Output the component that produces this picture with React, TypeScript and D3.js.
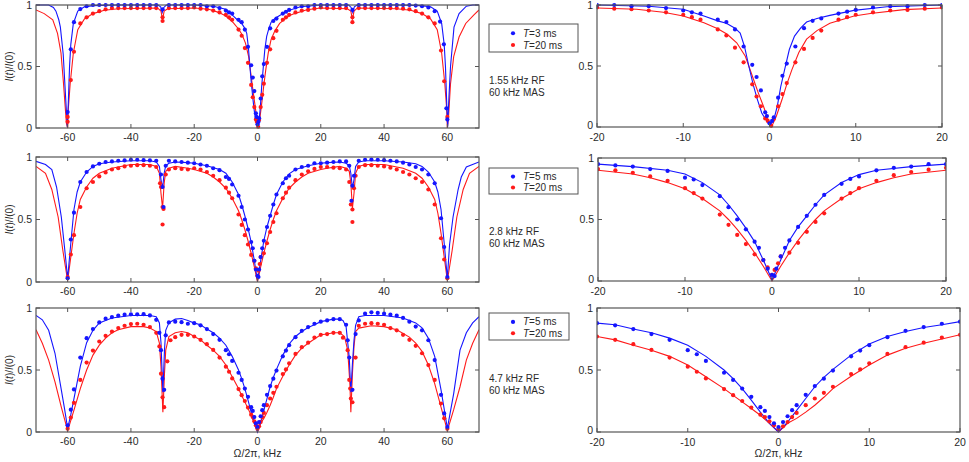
import * as d3 from "d3";

// ---- tick labels ----
const leftXTicks = [-60, -40, -20, 0, 20, 40, 60];
const rightXTicks = [-20, -10, 0, 10, 20];
const yTicks = [0, 0.5, 1];
const yTickLabels = ["0", "0.5", "1"];

// ---- legend / annotation text ----
const legendBlue = ["T=3 ms", "T=5 ms", "T=5 ms"];
const legendRed = ["T=20 ms", "T=20 ms", "T=20 ms"];
const rfLabels = ["1.55 kHz RF", "2.8 kHz RF", "4.7 kHz RF"];
const masLabel = "60 kHz MAS";

type Pt = [number, number];

// ---- row 1: 1.55 kHz RF ----
const blueLine1: Pt[] = [
  [-70, 1.0], [-66, 1.0], [-64.5, 0.98], [-63.7, 0.95], [-62.8, 0.88], [-62.3, 0.82], [-61.4, 0.6],
  [-60.6, 0.23], [-60.1, 0.01], [-59.8, 0.2], [-59.4, 0.5], [-59, 0.68], [-58.2, 0.85], [-56.8, 0.95],
  [-54.7, 0.985], [-52, 0.995], [-44, 1.0], [-31.5, 1.0], [-30.6, 0.985], [-30.1, 0.94], [-29.6, 0.98],
  [-28.8, 1.0], [-20, 1.0], [-14, 0.99], [-10, 0.965], [-7.6, 0.91], [-6, 0.87], [-5, 0.85], [-4, 0.81],
  [-3.4, 0.77], [-2.9, 0.66], [-2.4, 0.5], [-1.9, 0.35], [-1.4, 0.225], [-0.9, 0.115], [-0.3, 0.047],
  [0.1, 0.02], [0.5, 0.06], [0.9, 0.17], [1.3, 0.33], [1.8, 0.485], [2.3, 0.635], [2.9, 0.745],
  [3.6, 0.81], [4.3, 0.86], [5.5, 0.89], [7, 0.915], [9.8, 0.956], [13.6, 0.986], [20, 1.0],
  [28.8, 1.0], [29.6, 0.98], [30.1, 0.94], [30.6, 0.985], [31.5, 1.0], [44, 1.0], [52, 0.995],
  [54.7, 0.985], [56.8, 0.95], [58.2, 0.85], [59, 0.68], [59.4, 0.5], [59.8, 0.2], [60.1, 0.01],
  [60.5, 0.25], [61, 0.5], [62.1, 0.82], [63.7, 0.93], [66, 0.99], [68, 1.0], [70, 1.0],
];
const redLine1: Pt[] = [
  [-70, 0.96], [-67.4, 0.93], [-64.7, 0.88], [-63.2, 0.77], [-62.1, 0.61], [-61.3, 0.36], [-60.4, 0.04],
  [-60, 0.0], [-59.8, 0.15], [-59.2, 0.36], [-58.2, 0.61], [-56.8, 0.8], [-54.7, 0.886], [-52, 0.93],
  [-48.4, 0.957], [-44, 0.97], [-31.6, 0.976], [-30.5, 0.95], [-30, 0.88], [-29.5, 0.95], [-28.4, 0.97],
  [-20, 0.975], [-15.4, 0.965], [-12.3, 0.94], [-10, 0.91], [-7.6, 0.855], [-6, 0.805], [-4.9, 0.76],
  [-3.8, 0.69], [-2.8, 0.58], [-1.9, 0.4], [-1.3, 0.28], [-0.7, 0.17], [-0.1, 0.047], [0.3, 0.01],
  [0.8, 0.09], [1.45, 0.225], [2, 0.35], [2.6, 0.47], [3.4, 0.61], [4.3, 0.72], [5.5, 0.79], [7, 0.85],
  [9.8, 0.91], [11.7, 0.93], [15.6, 0.962], [20, 0.975], [28.4, 0.97], [29.5, 0.95], [30, 0.88],
  [30.5, 0.95], [31.6, 0.976], [44, 0.97], [48.4, 0.957], [52, 0.93], [54.7, 0.886], [56.8, 0.8],
  [58.2, 0.61], [59.2, 0.36], [59.8, 0.15], [60, 0.0], [60.4, 0.1], [61, 0.36], [62, 0.58],
  [63.7, 0.74], [65.8, 0.85], [68.4, 0.92], [70, 0.96],
];
const blueDots1: Pt[] = [
  [-60, 0.13], [-59, 0.64], [-58, 0.86], [-56, 0.967], [-54, 0.99], [-52, 1.0], [-50, 1.0], [-48, 1.0],
  [-46, 1.0], [-44, 1.0], [-42, 1.0], [-40, 1.0], [-38, 1.0], [-36, 1.0], [-34, 1.0], [-32, 1.0],
  [-30, 0.965], [-28, 1.0], [-26, 1.0], [-24, 1.0], [-22, 1.0], [-20, 1.0], [-18, 1.0], [-16, 0.99],
  [-14, 0.99], [-12, 0.975], [-10, 0.955], [-9, 0.94], [-8, 0.93], [-6, 0.88], [-5, 0.86], [-4, 0.8],
  [-3, 0.66], [-2, 0.51], [-1.5, 0.41], [-1, 0.3], [-0.5, 0.12], [-0.3, 0.09], [0, 0.03], [0.3, 0.05],
  [0.5, 0.08], [1, 0.24], [1.5, 0.42], [2, 0.52], [3, 0.66], [4, 0.81], [5, 0.87], [6, 0.89], [8, 0.93],
  [9, 0.945], [10, 0.96], [12, 0.98], [14, 0.99], [16, 0.99], [18, 1.0], [20, 1.0], [22, 1.0], [24, 1.0],
  [26, 1.0], [28, 1.0], [30, 0.96], [32, 1.0], [34, 1.0], [36, 1.0], [38, 1.0], [40, 1.0], [42, 1.0],
  [44, 1.0], [46, 1.0], [48, 1.0], [50, 0.995], [52, 0.99], [54, 0.98], [56, 0.95], [57.7, 0.865],
  [58.9, 0.68], [59.7, 0.16], [60, 0.07],
];
const redDots1: Pt[] = [
  [-60, 0.09], [-60, 0.05], [-59, 0.39], [-58, 0.62], [-56, 0.85], [-54, 0.9], [-52, 0.93], [-50, 0.95],
  [-48, 0.965], [-46, 0.975], [-44, 0.975], [-42, 0.975], [-40, 0.975], [-38, 0.975], [-36, 0.975],
  [-34, 0.975], [-32, 0.975], [-30, 0.87], [-30, 0.9], [-28, 0.975], [-26, 0.975], [-24, 0.975],
  [-22, 0.975], [-20, 0.98], [-18, 0.97], [-16, 0.965], [-14, 0.955], [-12, 0.94], [-10, 0.92],
  [-9, 0.9], [-8, 0.88], [-6, 0.8], [-5, 0.75], [-4, 0.65], [-3, 0.53], [-2, 0.35], [-1.5, 0.25],
  [-1, 0.17], [-0.5, 0.07], [-0.2, 0.05], [0.2, 0.01], [0.5, 0.065], [1, 0.17], [1.5, 0.27], [2, 0.36],
  [3, 0.53], [4, 0.64], [5, 0.73], [6, 0.79], [8, 0.88], [9, 0.9], [10, 0.92], [12, 0.94], [14, 0.955],
  [16, 0.96], [18, 0.97], [20, 0.98], [22, 0.975], [24, 0.975], [26, 0.975], [28, 0.975], [30, 0.86],
  [30, 0.9], [32, 0.975], [34, 0.975], [36, 0.975], [38, 0.975], [40, 0.975], [42, 0.975], [44, 0.975],
  [46, 0.97], [48, 0.965], [50, 0.95], [52, 0.93], [54, 0.9], [56, 0.85], [58, 0.63], [59, 0.38],
  [60, 0.09],
];

// ---- row 2: 2.8 kHz RF ----
const blueLine2: Pt[] = [
  [-70, 0.965], [-67, 0.94], [-65, 0.9], [-63.5, 0.76], [-62, 0.52], [-61, 0.28], [-60, 0.03], [-59, 0.31],
  [-58, 0.58], [-57, 0.72], [-56, 0.8], [-54, 0.88], [-52, 0.925], [-50, 0.946], [-46, 0.96], [-40, 0.97],
  [-34, 0.97], [-32, 0.96], [-31, 0.925], [-30.5, 0.82], [-30, 0.75], [-29.5, 0.87], [-29, 0.93],
  [-28, 0.95], [-26, 0.96], [-22, 0.955], [-20, 0.95], [-16, 0.93], [-12, 0.9], [-10, 0.87], [-8, 0.8],
  [-6, 0.7], [-5, 0.62], [-4, 0.53], [-3, 0.43], [-2, 0.32], [-1, 0.17], [0, 0.01], [1, 0.17], [2, 0.33],
  [3, 0.44], [4, 0.53], [5, 0.62], [6, 0.7], [8, 0.8], [10, 0.865], [12, 0.9], [16, 0.93], [20, 0.95],
  [22, 0.955], [26, 0.96], [28, 0.95], [29, 0.93], [29.5, 0.87], [30, 0.75], [30.5, 0.82], [31, 0.925],
  [32, 0.96], [34, 0.97], [40, 0.97], [46, 0.96], [50, 0.946], [52, 0.925], [54, 0.88], [56, 0.8],
  [57, 0.72], [58, 0.58], [59, 0.31], [60, 0.03], [60.7, 0.3], [61.8, 0.52], [63.4, 0.74], [64.4, 0.84],
  [66, 0.92], [70, 0.96],
];
const redLine2: Pt[] = [
  [-70, 0.925], [-67, 0.87], [-65, 0.74], [-63, 0.52], [-61.5, 0.25], [-60, 0.01], [-59, 0.2], [-58, 0.39],
  [-57, 0.55], [-56, 0.66], [-54, 0.76], [-52, 0.83], [-50, 0.87], [-46, 0.91], [-40, 0.94], [-34, 0.94],
  [-32, 0.925], [-31, 0.87], [-30.5, 0.71], [-30, 0.59], [-29.5, 0.79], [-29, 0.885], [-28, 0.91],
  [-26, 0.925], [-22, 0.91], [-20, 0.9], [-16, 0.87], [-14, 0.84], [-12, 0.8], [-10, 0.75], [-8, 0.67],
  [-6, 0.57], [-5, 0.5], [-4, 0.42], [-3, 0.33], [-2, 0.23], [-1, 0.12], [0, 0.0], [1, 0.12], [2, 0.23],
  [3, 0.33], [4, 0.42], [5, 0.5], [6, 0.57], [8, 0.67], [10, 0.75], [12, 0.8], [14, 0.84], [16, 0.87],
  [20, 0.9], [22, 0.91], [26, 0.925], [28, 0.91], [29, 0.885], [29.5, 0.79], [30, 0.59], [30.5, 0.71],
  [31, 0.87], [32, 0.925], [34, 0.94], [40, 0.94], [46, 0.91], [50, 0.87], [52, 0.83], [54, 0.76],
  [56, 0.66], [57, 0.55], [58, 0.39], [59, 0.2], [60, 0.01], [61.5, 0.25], [63, 0.52], [65, 0.74],
  [67, 0.87], [70, 0.925],
];
const blueDots2: Pt[] = [
  [-60, 0.03], [-59, 0.34], [-58, 0.555], [-56, 0.8], [-54, 0.88], [-52, 0.925], [-50, 0.946], [-48, 0.96],
  [-46, 0.965], [-44, 0.97], [-42, 0.973], [-40, 0.978], [-38, 0.978], [-36, 0.975], [-34, 0.973],
  [-32, 0.97], [-30.5, 0.86], [-30, 0.76], [-29.7, 0.6], [-29, 0.93], [-28, 0.97], [-26, 0.965],
  [-24, 0.96], [-22, 0.955], [-20, 0.95], [-18, 0.94], [-16, 0.93], [-14, 0.91], [-12, 0.895], [-10, 0.84],
  [-9, 0.825], [-8, 0.78], [-6, 0.69], [-5, 0.6], [-4, 0.5], [-3, 0.42], [-2, 0.32], [-1.5, 0.27],
  [-1, 0.17], [-0.5, 0.1], [0, 0.05], [0.3, 0.04], [0.5, 0.1], [1, 0.2], [1.5, 0.27], [2, 0.33],
  [3, 0.44], [4, 0.53], [5, 0.62], [6, 0.7], [8, 0.79], [9, 0.83], [10, 0.85], [12, 0.9], [14, 0.92],
  [16, 0.93], [18, 0.95], [20, 0.95], [22, 0.955], [24, 0.96], [26, 0.965], [28, 0.965], [29, 0.93],
  [29.7, 0.65], [30, 0.77], [30.5, 0.85], [32, 0.97], [34, 0.978], [36, 0.98], [38, 0.978], [40, 0.975],
  [42, 0.97], [44, 0.965], [46, 0.955], [48, 0.94], [50, 0.92], [52, 0.9], [54, 0.86], [56, 0.79],
  [58, 0.51], [59, 0.28], [60, 0.04],
];
const redDots2: Pt[] = [
  [-60, 0.04], [-59, 0.22], [-58, 0.375], [-56, 0.6], [-54, 0.75], [-52, 0.8], [-50, 0.845], [-48, 0.876],
  [-46, 0.9], [-44, 0.91], [-42, 0.925], [-40, 0.93], [-38, 0.935], [-36, 0.935], [-34, 0.93], [-32, 0.92],
  [-30.8, 0.79], [-30.5, 0.76], [-30, 0.6], [-30, 0.46], [-29.7, 0.585], [-29, 0.86], [-28, 0.9],
  [-26, 0.91], [-24, 0.905], [-22, 0.9], [-20, 0.91], [-18, 0.9], [-16, 0.88], [-14, 0.85], [-12, 0.815],
  [-10, 0.755], [-9, 0.715], [-8, 0.67], [-6, 0.54], [-5, 0.457], [-4, 0.375], [-3, 0.3], [-2, 0.217],
  [-1, 0.17], [-0.5, 0.11], [0, 0.05], [0.3, 0.09], [0.7, 0.144], [1, 0.2], [2, 0.23], [3, 0.31],
  [4, 0.4], [5, 0.48], [6, 0.55], [8, 0.67], [9, 0.715], [10, 0.755], [12, 0.815], [14, 0.86],
  [16, 0.886], [18, 0.905], [20, 0.92], [22, 0.92], [24, 0.915], [26, 0.91], [28, 0.9], [29, 0.8],
  [29.5, 0.62], [30, 0.48], [30, 0.58], [30.5, 0.75], [31, 0.85], [32, 0.92], [34, 0.935], [36, 0.935],
  [38, 0.93], [40, 0.925], [42, 0.915], [44, 0.9], [46, 0.88], [48, 0.86], [50, 0.83], [52, 0.8],
  [54, 0.74], [56, 0.62], [58, 0.35], [59, 0.18], [60, 0.03],
];

// ---- row 3: 4.7 kHz RF ----
const blueLine3: Pt[] = [
  [-70, 0.94], [-68, 0.905], [-66, 0.82], [-64, 0.635], [-62, 0.34], [-61, 0.19], [-60, 0.03], [-59, 0.14],
  [-58, 0.27], [-56, 0.53], [-54, 0.72], [-52, 0.82], [-50, 0.88], [-46, 0.92], [-40, 0.94], [-34, 0.94],
  [-32, 0.93], [-31, 0.88], [-30.5, 0.72], [-29.9, 0.32], [-29.4, 0.66], [-29, 0.82], [-28, 0.88],
  [-26, 0.91], [-24, 0.915], [-22, 0.9], [-20, 0.878], [-18, 0.865], [-16, 0.83], [-14, 0.8],
  [-12, 0.757], [-10, 0.7], [-8, 0.61], [-6, 0.5], [-5, 0.43], [-4, 0.35], [-3, 0.257], [-2, 0.16],
  [-1, 0.07], [0, 0.0], [1, 0.08], [2, 0.175], [3, 0.27], [4, 0.365], [5, 0.44], [6, 0.505], [8, 0.62],
  [10, 0.71], [12, 0.77], [14, 0.81], [16, 0.843], [18, 0.865], [20, 0.89], [22, 0.9], [24, 0.91],
  [26, 0.91], [27, 0.9], [28, 0.85], [29, 0.6], [29.5, 0.32], [30, 0.55], [30.5, 0.74], [31, 0.86],
  [32, 0.93], [34, 0.94], [40, 0.94], [46, 0.92], [50, 0.88], [52, 0.84], [54, 0.757], [56, 0.61],
  [58, 0.34], [60, 0.03], [62, 0.31], [64, 0.66], [66, 0.8], [68, 0.88], [70, 0.93],
];
const redLine3: Pt[] = [
  [-70, 0.824], [-68, 0.716], [-66, 0.58], [-64, 0.405], [-62, 0.2], [-60, 0.01], [-58, 0.176],
  [-56, 0.35], [-54, 0.5], [-52, 0.62], [-50, 0.7], [-48, 0.757], [-46, 0.8], [-44, 0.824], [-40, 0.85],
  [-36, 0.85], [-34, 0.838], [-32, 0.81], [-31, 0.716], [-30.5, 0.527], [-29.9, 0.16], [-29.4, 0.47],
  [-29, 0.66], [-28, 0.77], [-26, 0.8], [-24, 0.81], [-22, 0.8], [-20, 0.77], [-18, 0.743], [-16, 0.7],
  [-14, 0.66], [-12, 0.61], [-10, 0.54], [-8, 0.446], [-6, 0.35], [-5, 0.295], [-4, 0.243], [-3, 0.19],
  [-2, 0.135], [-1, 0.07], [0, 0.0], [1, 0.07], [2, 0.11], [3, 0.16], [4, 0.216], [5, 0.28], [6, 0.35],
  [8, 0.45], [10, 0.54], [12, 0.62], [14, 0.676], [16, 0.716], [18, 0.75], [20, 0.784], [22, 0.79],
  [24, 0.8], [26, 0.8], [27.5, 0.77], [28.5, 0.66], [29.2, 0.39], [29.5, 0.16], [30, 0.47], [30.5, 0.69],
  [31, 0.81], [32, 0.838], [36, 0.857], [40, 0.85], [44, 0.824], [48, 0.765], [50, 0.716], [52, 0.65],
  [54, 0.54], [56, 0.39], [58, 0.2], [60, 0.01], [62, 0.18], [64, 0.365], [66, 0.58], [68, 0.716],
  [70, 0.824],
];
const blueDots3: Pt[] = [
  [-60, 0.054], [-59, 0.18], [-58, 0.343], [-56, 0.6], [-54, 0.757], [-52, 0.83], [-50, 0.884],
  [-48, 0.914], [-46, 0.927], [-44, 0.938], [-42, 0.946], [-40, 0.949], [-38, 0.949], [-36, 0.95],
  [-34, 0.94], [-32, 0.905], [-31, 0.8], [-30.5, 0.66], [-30, 0.43], [-29.5, 0.34], [-29, 0.78],
  [-28, 0.884], [-26, 0.89], [-24, 0.886], [-22, 0.873], [-20, 0.878], [-18, 0.86], [-16, 0.83],
  [-14, 0.79], [-12, 0.743], [-10, 0.66], [-9, 0.627], [-8, 0.573], [-6, 0.478], [-5, 0.42], [-4, 0.35],
  [-3, 0.284], [-2, 0.2], [-1.5, 0.17], [-1, 0.12], [-0.5, 0.07], [0, 0.04], [0.5, 0.08], [1, 0.127],
  [1.5, 0.176], [2, 0.216], [3, 0.3], [4, 0.37], [5, 0.43], [6, 0.495], [8, 0.61], [9, 0.657], [10, 0.7],
  [12, 0.765], [14, 0.816], [16, 0.846], [18, 0.873], [20, 0.89], [22, 0.9], [24, 0.91], [26, 0.91],
  [28, 0.865], [28.5, 0.74], [29, 0.6], [30, 0.34], [31, 0.79], [32, 0.9], [34, 0.954], [36, 0.965],
  [38, 0.96], [40, 0.954], [42, 0.946], [44, 0.938], [46, 0.92], [48, 0.89], [50, 0.85], [52, 0.82],
  [54, 0.74], [56, 0.58], [58, 0.3], [59, 0.15], [60, 0.04],
];
const redDots3: Pt[] = [
  [-60, 0.027], [-59, 0.116], [-58, 0.235], [-56, 0.42], [-54, 0.56], [-52, 0.657], [-50, 0.73],
  [-48, 0.776], [-46, 0.81], [-44, 0.838], [-42, 0.857], [-40, 0.87], [-38, 0.873], [-36, 0.865],
  [-34, 0.846], [-32, 0.8], [-31, 0.69], [-30.5, 0.47], [-30, 0.28], [-29.5, 0.2], [-28.5, 0.57],
  [-27.5, 0.74], [-26, 0.765], [-24, 0.784], [-22, 0.784], [-20, 0.77], [-18, 0.743], [-16, 0.708],
  [-14, 0.662], [-12, 0.6], [-10, 0.527], [-9, 0.486], [-8, 0.432], [-6, 0.346], [-5, 0.297], [-4, 0.25],
  [-3, 0.197], [-2, 0.14], [-1.5, 0.12], [-1, 0.086], [-0.5, 0.054], [0, 0.027], [0.5, 0.046], [1, 0.08],
  [1.5, 0.12], [2, 0.154], [3, 0.216], [4, 0.27], [5, 0.316], [6, 0.365], [8, 0.467], [9, 0.505],
  [10, 0.554], [12, 0.63], [14, 0.684], [16, 0.72], [18, 0.762], [20, 0.784], [22, 0.79], [24, 0.8],
  [26, 0.8], [27, 0.76], [28.5, 0.66], [29, 0.42], [29.3, 0.35], [29.5, 0.27], [30, 0.24], [31, 0.6],
  [32, 0.857], [34, 0.873], [36, 0.878], [38, 0.873], [40, 0.865], [42, 0.838], [44, 0.82], [46, 0.784],
  [48, 0.743], [50, 0.695], [52, 0.635], [54, 0.54], [56, 0.42], [58, 0.23], [59, 0.11], [60, 0.027],
];

const rows = [
  { blueLine: blueLine1, redLine: redLine1, blueDots: blueDots1, redDots: redDots1 },
  { blueLine: blueLine2, redLine: redLine2, blueDots: blueDots2, redDots: redDots2 },
  { blueLine: blueLine3, redLine: redLine3, blueDots: blueDots3, redDots: redDots3 },
];

// ---- layout ----
const W = 969;
const H = 462;
const FONT = "'Liberation Sans', Arial, sans-serif";
const BLUE = "#1515ff";
const RED = "#ff1a1a";
const BOX = "#555555";
const TEXT = "#2a2a2a";

const leftBox = [
  { x0: 36, x1: 479, top: 5, bottom: 128 },
  { x0: 36, x1: 479, top: 157, bottom: 282 },
  { x0: 36, x1: 479, top: 308, bottom: 432 },
];
const rightBox = [
  { x0: 597, x1: 942, top: 5, bottom: 127 },
  { x0: 598, x1: 946, top: 158, bottom: 281 },
  { x0: 597, x1: 960, top: 308, bottom: 432 },
];
const legendBox = [
  { x: 489, y: 24, w: 89, h: 28 },
  { x: 489, y: 168, w: 89, h: 26 },
  { x: 489, y: 313, w: 80, h: 27 },
];
const noteY = [84, 235, 382];

type Box = { x0: number; x1: number; top: number; bottom: number };

function Panel({
  box,
  domain,
  xTicks,
  row,
  id,
  showXLabel,
  narrow,
}: {
  box: Box;
  domain: [number, number];
  xTicks: number[];
  row: (typeof rows)[number];
  id: string;
  showXLabel: boolean;
  narrow: boolean;
}) {
  const x = d3.scaleLinear().domain(domain).range([box.x0, box.x1]);
  const y = d3.scaleLinear().domain([0, 1]).range([box.bottom, box.top]);
  const line = d3
    .line<Pt>()
    .x((d) => x(d[0]))
    .y((d) => y(d[1]));
  const inDomain = (d: Pt) => d[0] >= domain[0] && d[0] <= domain[1];
  const tick = 4;

  return (
    <g>
      <defs>
        <clipPath id={id}>
          <rect x={box.x0} y={box.top - 3} width={box.x1 - box.x0} height={box.bottom - box.top + 6} />
        </clipPath>
      </defs>
      <g clipPath={`url(#${id})`}>
        <path d={line(row.redLine) ?? ""} fill="none" stroke={RED} strokeWidth={1.1} />
        <path d={line(row.blueLine) ?? ""} fill="none" stroke={BLUE} strokeWidth={1.1} />
        {row.redDots.filter(inDomain).map((d, i) => (
          <circle key={"r" + i} cx={x(d[0])} cy={y(d[1])} r={2.1} fill={RED} />
        ))}
        {row.blueDots.filter(inDomain).map((d, i) => (
          <circle key={"b" + i} cx={x(d[0])} cy={y(d[1])} r={2.1} fill={BLUE} />
        ))}
      </g>
      <rect
        x={box.x0}
        y={box.top}
        width={box.x1 - box.x0}
        height={box.bottom - box.top}
        fill="none"
        stroke={BOX}
        strokeWidth={1.2}
      />
      {xTicks.map((t) => (
        <g key={"x" + t}>
          <line x1={x(t)} x2={x(t)} y1={box.bottom} y2={box.bottom - tick} stroke={BOX} />
          <line x1={x(t)} x2={x(t)} y1={box.top} y2={box.top + tick} stroke={BOX} />
          <text
            x={x(t)}
            y={box.bottom + (narrow ? 14 : 13)}
            textAnchor="middle"
            fontSize={10.5}
            fill={TEXT}
            fontFamily={FONT}
          >
            {t}
          </text>
        </g>
      ))}
      {yTicks.map((t, i) => (
        <g key={"y" + t}>
          <line x1={box.x0} x2={box.x0 + tick} y1={y(t)} y2={y(t)} stroke={BOX} />
          <line x1={box.x1} x2={box.x1 - tick} y1={y(t)} y2={y(t)} stroke={BOX} />
          <text
            x={box.x0 - 4}
            y={y(t) + (narrow && t === 0 ? 1.5 : 3.5)}
            textAnchor="end"
            fontSize={10.5}
            fill={TEXT}
            fontFamily={FONT}
          >
            {yTickLabels[i]}
          </text>
        </g>
      ))}
      {showXLabel && (
        <text
          x={(box.x0 + box.x1) / 2}
          y={box.bottom + 25}
          textAnchor="middle"
          fontSize={10.5}
          fill={TEXT}
          fontFamily={FONT}
        >
          Ω/2π, kHz
        </text>
      )}
    </g>
  );
}

function Legend({ i }: { i: number }) {
  const b = legendBox[i];
  const entries = [
    { label: legendBlue[i], color: BLUE },
    { label: legendRed[i], color: RED },
  ];
  return (
    <g fontFamily={FONT} fontSize={10}>
      <rect x={b.x} y={b.y} width={b.w} height={b.h} fill="#fff" stroke={BOX} strokeWidth={1} />
      {entries.map((e, k) => {
        const cy = b.y + b.h * (k === 0 ? 0.33 : 0.75);
        const [t, rest] = e.label.split("=");
        return (
          <g key={k}>
            <circle cx={b.x + 24} cy={cy} r={2.1} fill={e.color} />
            <text x={b.x + 34} y={cy + 3.5} fill={TEXT}>
              <tspan fontStyle="italic">{t}</tspan>={rest}
            </text>
          </g>
        );
      })}
    </g>
  );
}

export default function App() {
  return (
    <svg
      width={W}
      height={H}
      viewBox={`0 0 ${W} ${H}`}
      style={{ position: "absolute", left: 0, top: 0, background: "#fff" }}
    >
      <rect width={W} height={H} fill="#fff" />
      {rows.map((row, i) => (
        <g key={i}>
          <Panel
            box={leftBox[i]}
            domain={[-70, 70]}
            xTicks={leftXTicks}
            row={row}
            id={`clipL${i}`}
            showXLabel={i === 2}
            narrow={false}
          />
          <Panel
            box={rightBox[i]}
            domain={[-20, 20]}
            xTicks={rightXTicks}
            row={row}
            id={`clipR${i}`}
            showXLabel={i === 2}
            narrow={true}
          />
          <text
            transform={`translate(13, ${(leftBox[i].top + leftBox[i].bottom) / 2}) rotate(-90)`}
            textAnchor="middle"
            fontSize={10}
            fill={TEXT}
            fontFamily={FONT}
          >
            <tspan fontStyle="italic">I</tspan>(<tspan fontStyle="italic">t</tspan>)/
            <tspan fontStyle="italic">I</tspan>(0)
          </text>
          <Legend i={i} />
          <text x={489} y={noteY[i]} fontSize={10} fill={TEXT} fontFamily={FONT}>
            {rfLabels[i]}
          </text>
          <text x={489} y={noteY[i] + 11.5} fontSize={10} fill={TEXT} fontFamily={FONT}>
            {masLabel}
          </text>
        </g>
      ))}
    </svg>
  );
}
